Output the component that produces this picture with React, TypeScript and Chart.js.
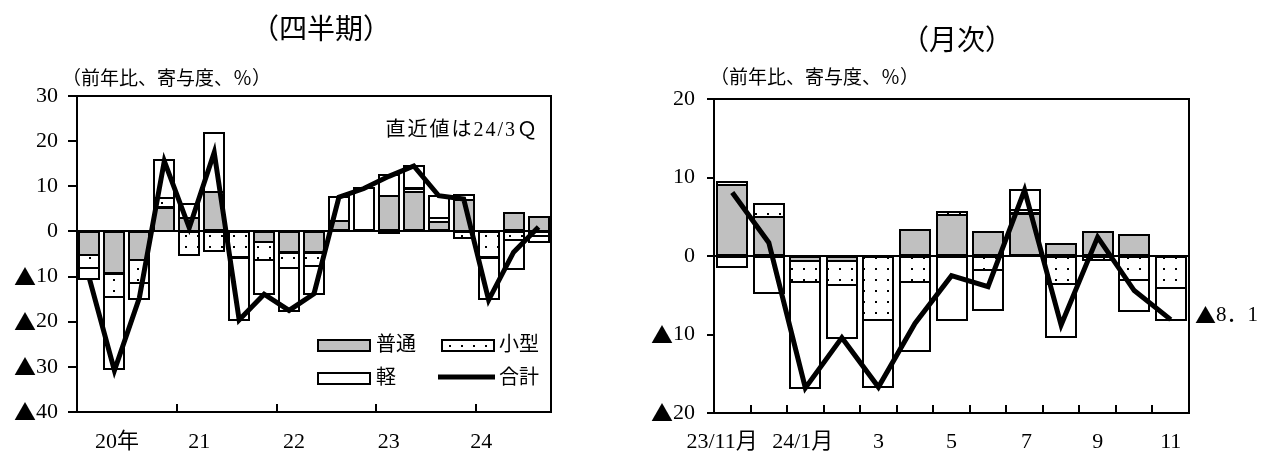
import React, { useEffect, useRef } from 'react';
import { Chart, registerables } from 'chart.js';

Chart.register(...registerables);

const SERIF = '"Liberation Serif", "Noto Sans CJK JP", serif';
const CJK = '"Noto Sans CJK JP", sans-serif';
const GRAY = '#c0c0c0';

// ---------- Quarterly panel (四半期) ----------
const qCategories = [
  '20Q1', '20Q2', '20Q3', '20Q4',
  '21Q1', '21Q2', '21Q3', '21Q4',
  '22Q1', '22Q2', '22Q3', '22Q4',
  '23Q1', '23Q2', '23Q3', '23Q4',
  '24Q1', '24Q2', '24Q3',
];
const qFutsu = [-5.3, -9.4, -6.4, 5.3, 3.0, 8.7, null, -2.4, -4.7, -4.7, 2.3, null, 7.8, 8.7, 2.0, 7.0, null, 4.0, 3.3];
const qKogata = [-2.9, -5.2, -5.0, 2.0, -5.3, -4.5, -5.8, -4.0, -3.3, -2.9, null, null, -0.4, 0.8, 1.0, -1.5, -5.8, -2.0, -1.0];
const qKei = [-2.4, -16.0, -3.5, 8.5, 3.1, 13.1, -13.8, -7.6, -9.6, -6.2, 5.4, 9.6, 4.6, 4.9, 4.8, 1.1, -9.1, -6.5, -1.3];
const qTotal = [-10.5, -30.8, -14.7, 15.6, 0.8, 17.5, -19.6, -13.9, -17.5, -13.8, 7.6, 9.5, 12.2, 14.5, 7.9, 7.2, -15.2, -4.6, 1.0];
const qYearLabels = ['20年', '21', '22', '23', '24'];
const qYearLabelPos = [1.1, 4.4, 8.2, 12.0, 15.7];
const qYearBoundaries = [3.5, 7.5, 11.5, 15.5];

// ---------- Monthly panel (月次) ----------
const mCategories = ['23/11', '23/12', '24/1', '24/2', '24/3', '24/4', '24/5', '24/6', '24/7', '24/8', '24/9', '24/10', '24/11'];
const mFutsu = [9.0, 5.0, -0.6, -0.7, null, 3.3, 5.2, 3.1, 5.4, 1.5, 3.0, 2.7, null];
const mKogata = [0.4, 1.6, -2.7, -3.0, -8.1, -3.3, 0.4, -1.8, 0.4, -3.6, -0.5, -3.1, -4.1];
const mKei = [-1.4, -4.7, -13.5, -6.8, -8.5, -8.8, -8.1, -5.1, 2.6, -6.8, null, -4.0, -4.1];
const mTotal = [8.1, 1.7, -16.8, -10.4, -16.7, -8.6, -2.5, -3.9, 8.4, -8.8, 2.4, -4.4, -8.1];
const mLabels = ['23/11月', '24/1月', '3', '5', '7', '9', '11'];
const mLabelPos = [-0.28, 1.93, 4, 6, 8.05, 10, 12];
const mBoundaries = [0.5, 1.5, 2.5, 3.5, 4.5, 5.5, 6.5, 7.5, 8.5, 9.5, 10.5, 11.5];

const seriesNames = ['普通', '小型', '軽', '合計'];

function makeDotPattern(): CanvasPattern | string {
  const c = document.createElement('canvas');
  c.width = 12;
  c.height = 11;
  const g = c.getContext('2d');
  if (!g) return '#fff';
  g.fillStyle = '#fff';
  g.fillRect(0, 0, 12, 11);
  g.fillStyle = '#000';
  g.fillRect(5, 4, 2, 2);
  return g.createPattern(c, 'repeat') || '#fff';
}

type TextItem = { text: string; x: number; y: number; size: number; align: CanvasTextAlign; spacing?: number };

// Draws text with the black triangle taken from the CJK font (full width, like the original Mincho).
function drawText(ctx: CanvasRenderingContext2D, t: TextItem) {
  ctx.save();
  ctx.fillStyle = '#000';
  ctx.textBaseline = 'middle';
  ctx.textAlign = 'left';
  const sp = t.spacing || 0;
  const runs: { s: string; f: string }[] = [];
  for (const ch of Array.from(t.text)) {
    const f = ch === '▲' ? CJK : SERIF;
    const last = runs[runs.length - 1];
    if (last && last.f === f) last.s += ch;
    else runs.push({ s: ch, f });
  }
  (ctx as any).letterSpacing = `${sp}px`;
  let total = 0;
  const widths = runs.map((r) => {
    ctx.font = `${t.size}px ${r.f}`;
    const w = ctx.measureText(r.s).width;
    total += w;
    return w;
  });
  let x = t.x;
  if (t.align === 'center') x -= total / 2;
  else if (t.align === 'right' || t.align === 'end') x -= total;
  runs.forEach((r, i) => {
    ctx.font = `${t.size}px ${r.f}`;
    ctx.fillText(r.s, x, t.y);
    x += widths[i];
  });
  ctx.restore();
}

function fmtTick(n: number): string {
  return n < 0 ? '▲' + Math.abs(n) : String(n);
}

type PanelCfg = {
  id: string;
  labels: string[];
  futsu: (number | null)[];
  kogata: (number | null)[];
  kei: (number | null)[];
  total: number[];
  yMin: number;
  yMax: number;
  padding: { left: number; top: number; right: number; bottom: number };
  yWidth: number;
  xHeight: number;
  tickLen: number;
  tickPad: number;
  barPct: number;
  xLabels: string[];
  xLabelPos: number[];
  xLabelY: number;
  xTickPos: number[];
  texts: TextItem[];
  legend: boolean;
  dots: CanvasPattern | string;
};

function buildConfig(p: PanelCfg): any {
  const plugin = {
    id: 'deco_' + p.id,
    beforeDatasetsDraw(chart: any) {
      const { ctx, chartArea: a, scales } = chart;
      const y0 = Math.round(scales.y.getPixelForValue(0));
      ctx.save();
      ctx.strokeStyle = '#000';
      ctx.lineWidth = 2;
      ctx.beginPath();
      ctx.moveTo(a.left, y0);
      ctx.lineTo(a.right, y0);
      ctx.stroke();
      ctx.restore();
    },
    afterDatasetDraw(chart: any, args: any) {
      const meta = args.meta;
      if (meta.type !== 'bar') return;
      const ds = chart.data.datasets[args.index];
      const ctx = chart.ctx;
      ctx.save();
      ctx.strokeStyle = '#000';
      ctx.lineWidth = 2;
      meta.data.forEach((el: any, i: number) => {
        const v = ds.data[i];
        if (v == null) return;
        const { x, y, base, width } = el.getProps(['x', 'y', 'base', 'width'], true);
        const top = Math.min(y, base);
        const h = Math.abs(y - base);
        ctx.strokeRect(Math.round(x - width / 2), Math.round(top), Math.round(width), Math.round(h));
      });
      ctx.restore();
    },
    afterDraw(chart: any) {
      const { ctx, chartArea: a, scales } = chart;
      const xs = scales.x;
      const ys = scales.y;
      ctx.save();
      ctx.strokeStyle = '#000';
      ctx.lineWidth = 2;
      ctx.strokeRect(Math.round(a.left), Math.round(a.top), Math.round(a.right - a.left), Math.round(a.bottom - a.top));
      const yb = Math.round(a.bottom);
      ctx.beginPath();
      p.xTickPos.forEach((pos) => {
        const x = Math.round(xs.getPixelForValue(pos));
        ctx.moveTo(x, yb);
        ctx.lineTo(x, yb - 8);
      });
      ctx.stroke();
      ctx.restore();
      // y tick labels
      ys.ticks.forEach((tk: any) => {
        drawText(ctx, {
          text: fmtTick(Number(tk.value)),
          x: a.left - p.tickLen - p.tickPad,
          y: ys.getPixelForValue(tk.value),
          size: 22,
          align: 'right',
        });
      });
      // x labels
      p.xLabels.forEach((lab, i) => {
        drawText(ctx, { text: lab, x: xs.getPixelForValue(p.xLabelPos[i]), y: p.xLabelY, size: 22, align: 'center' });
      });
      p.texts.forEach((t) => drawText(ctx, t));
      if (p.legend) {
        ctx.save();
        ctx.strokeStyle = '#000';
        ctx.lineWidth = 2;
        const boxes: [number, number, any][] = [
          [318, 340, GRAY],
          [442, 340, p.dots],
          [318, 373, '#fff'],
        ];
        boxes.forEach(([bx, by, fill]) => {
          ctx.fillStyle = fill;
          ctx.fillRect(bx, by, 52, 11);
          ctx.strokeRect(bx, by, 52, 11);
        });
        ctx.lineWidth = 5;
        ctx.beginPath();
        ctx.moveTo(438, 377);
        ctx.lineTo(495, 377);
        ctx.stroke();
        ctx.restore();
        drawText(ctx, { text: seriesNames[0], x: 376, y: 346, size: 20, align: 'left' });
        drawText(ctx, { text: seriesNames[1], x: 499, y: 346, size: 20, align: 'left' });
        drawText(ctx, { text: seriesNames[2], x: 376, y: 379, size: 20, align: 'left' });
        drawText(ctx, { text: seriesNames[3], x: 499, y: 379, size: 20, align: 'left' });
      }
    },
  };

  const barCommon = {
    type: 'bar',
    borderWidth: 0,
    stack: 's',
    order: 1,
    barPercentage: p.barPct,
    categoryPercentage: 1,
  };

  return {
    type: 'bar',
    data: {
      labels: p.labels,
      datasets: [
        { ...barCommon, label: seriesNames[0], data: p.futsu, backgroundColor: GRAY },
        { ...barCommon, label: seriesNames[1], data: p.kogata, backgroundColor: p.dots },
        { ...barCommon, label: seriesNames[2], data: p.kei, backgroundColor: '#fff' },
        {
          type: 'line',
          label: seriesNames[3],
          data: p.total,
          borderColor: '#000',
          backgroundColor: '#000',
          borderWidth: 5,
          pointRadius: 0,
          tension: 0,
          order: 0,
          stack: 'total',
          fill: false,
        },
      ],
    },
    options: {
      responsive: false,
      animation: false,
      devicePixelRatio: 1,
      events: [],
      layout: { padding: p.padding },
      plugins: {
        legend: { display: false },
        tooltip: { enabled: false },
        title: { display: false },
      },
      scales: {
        x: {
          stacked: true,
          offset: true,
          grid: { display: false },
          border: { display: false },
          ticks: { display: false },
          afterFit: (s: any) => {
            s.height = p.xHeight;
          },
        },
        y: {
          stacked: true,
          min: p.yMin,
          max: p.yMax,
          grid: {
            display: true,
            drawOnChartArea: false,
            drawTicks: true,
            tickLength: p.tickLen,
            color: '#000',
            lineWidth: 2,
          },
          border: { display: false },
          ticks: {
            display: false,
            stepSize: 10,
          },
          afterFit: (s: any) => {
            s.width = p.yWidth;
          },
        },
      },
    },
    plugins: [plugin],
  };
}

export default function App() {
  const leftRef = useRef<HTMLCanvasElement>(null);
  const rightRef = useRef<HTMLCanvasElement>(null);

  useEffect(() => {
    const dots = makeDotPattern();
    const c1 = new Chart(
      leftRef.current as HTMLCanvasElement,
      buildConfig({
        id: 'q',
        labels: qCategories,
        futsu: qFutsu,
        kogata: qKogata,
        kei: qKei,
        total: qTotal,
        yMin: -40,
        yMax: 30,
        padding: { left: 0, top: 96, right: 79, bottom: 0 },
        yWidth: 77,
        xHeight: 43,
        tickLen: 9,
        tickPad: 10,
        barPct: 0.8,
        xLabels: qYearLabels,
        xLabelPos: qYearLabelPos,
        xLabelY: 442,
        xTickPos: qYearBoundaries,
        texts: [
          { text: '（四半期）', x: 321, y: 32, size: 28, align: 'center' },
          { text: '（前年比、寄与度、％）', x: 62, y: 80, size: 19, align: 'left' },
          { text: '直近値は24/3Ｑ', x: 539, y: 131, size: 20, align: 'right', spacing: 2 },
        ],
        legend: true,
        dots,
      }) as any
    );
    const c2 = new Chart(
      rightRef.current as HTMLCanvasElement,
      buildConfig({
        id: 'm',
        labels: mCategories,
        futsu: mFutsu,
        kogata: mKogata,
        kei: mKei,
        total: mTotal,
        yMin: -20,
        yMax: 20,
        padding: { left: 0, top: 99, right: 72, bottom: 0 },
        yWidth: 84,
        xHeight: 42,
        tickLen: 7,
        tickPad: 12,
        barPct: 0.82,
        xLabels: mLabels,
        xLabelPos: mLabelPos,
        xLabelY: 442,
        xTickPos: mBoundaries,
        texts: [
          { text: '（月次）', x: 327, y: 43, size: 28, align: 'center' },
          { text: '（前年比、寄与度、％）', x: 80, y: 79, size: 19, align: 'left' },
          { text: '▲8．1', x: 565, y: 315, size: 21, align: 'left' },
        ],
        legend: false,
        dots,
      }) as any
    );
    return () => {
      c1.destroy();
      c2.destroy();
    };
  }, []);

  return (
    <div style={{ position: 'absolute', left: 0, top: 0, width: 1261, height: 455, background: '#fff' }}>
      <canvas
        ref={leftRef}
        width={630}
        height={455}
        style={{ position: 'absolute', left: 0, top: 0, width: 630, height: 455 }}
      />
      <canvas
        ref={rightRef}
        width={631}
        height={455}
        style={{ position: 'absolute', left: 630, top: 0, width: 631, height: 455 }}
      />
    </div>
  );
}
